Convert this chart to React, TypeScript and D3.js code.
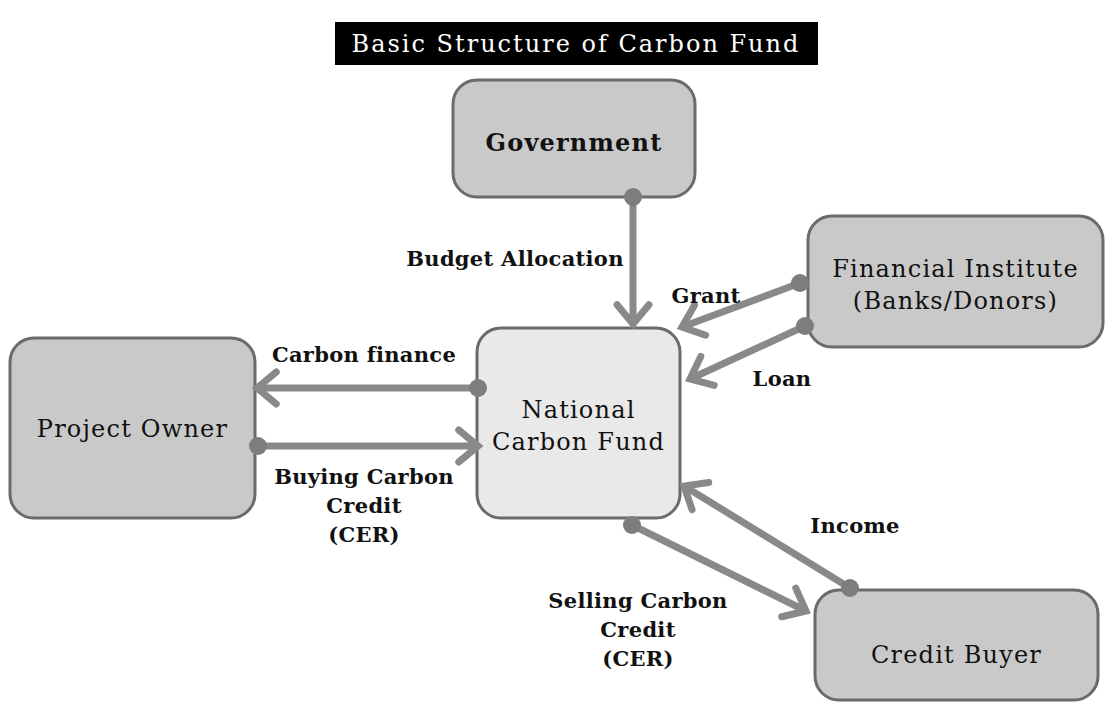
import * as d3 from 'd3';
import React from 'react';

const W = 1105;
const H = 703;

// boxes: name, rect, fill, text lines, bold
const boxNames = ['Government', 'Financial Institute', 'Project Owner', 'National Carbon Fund', 'Credit Buyer'];
const boxRects = [
  [453, 80, 695, 197],
  [808, 216, 1103, 347],
  [10, 338, 255, 518],
  [477, 328, 680, 518],
  [815, 590, 1098, 700],
];
const boxTextY = [142, 284, 428, 425, 654];
const boxFills = ['#c9c9c9', '#c9c9c9', '#c9c9c9', '#e9e9e9', '#c9c9c9'];
const boxLines = [
  ['Government'],
  ['Financial Institute', '(Banks/Donors)'],
  ['Project Owner'],
  ['National', 'Carbon Fund'],
  ['Credit Buyer'],
];
const boxBold = [true, false, false, false, false];

// flows: start (dot) -> end (arrow tip)
const flowNames = ['Budget Allocation', 'Grant', 'Loan', 'Carbon finance', 'Buying Carbon Credit', 'Income', 'Selling Carbon Credit'];
const flowFrom = [[633, 197], [800, 283], [805, 326], [478, 388], [258, 446], [850, 588], [632, 525]];
const flowTo = [[633, 324], [682, 327], [690, 379], [257, 388], [478, 446], [684, 486], [806, 611]];

// labels
const labelLines = [
  ['Budget Allocation'],
  ['Grant'],
  ['Loan'],
  ['Carbon finance'],
  ['Buying Carbon', 'Credit', '(CER)'],
  ['Income'],
  ['Selling Carbon', 'Credit', '(CER)'],
];
const labelPos = [[515, 266], [706, 303], [782, 386], [364, 362], [364, 484], [855, 533], [638, 608]];

const font = '"DejaVu Serif", serif';

export default function App() {
  const line = d3.line();
  const arrowColor = '#898989';

  return (
    <svg width={W} height={H} style={{ position: 'absolute', left: 0, top: 0, background: '#fff' }}>
      {/* title */}
      <rect x={335} y={22} width={483} height={43} fill="#000" />
      <text x={576} y={52} textAnchor="middle" fill="#fff" fontFamily={font} fontSize={24} letterSpacing={2}>
        Basic Structure of Carbon Fund
      </text>

      {boxNames.map((n, i) => {
        const [x0, y0, x1, y1] = boxRects[i];
        const cx = (x0 + x1) / 2;
        const lines = boxLines[i];
        const lh = 32;
        return (
          <g key={n}>
            <rect x={x0} y={y0} width={x1 - x0} height={y1 - y0} rx={24} ry={24}
              fill={boxFills[i]} stroke="#6b6b6b" strokeWidth={3} />
            {lines.map((t, j) => (
              <text key={t} x={cx} y={boxTextY[i] + (j - (lines.length - 1) / 2) * lh + 9}
                textAnchor="middle" fontFamily={font} fontSize={24} letterSpacing={1.2}
                fontWeight={boxBold[i] ? 'bold' : 'normal'} fill="#111">{t}</text>
            ))}
          </g>
        );
      })}

      {flowNames.map((n, i) => {
        const [x0, y0] = flowFrom[i];
        const [x1, y1] = flowTo[i];
        const a = Math.atan2(y1 - y0, x1 - x0);
        const len = 25;
        const spread = Math.PI * 0.22;
        const b1: [number, number] = [x1 - len * Math.cos(a - spread), y1 - len * Math.sin(a - spread)];
        const b2: [number, number] = [x1 - len * Math.cos(a + spread), y1 - len * Math.sin(a + spread)];
        return (
          <g key={n}>
            <path d={line([[x0, y0], [x1, y1]]) || ''} stroke={arrowColor} strokeWidth={7} fill="none" />
            <path d={line([b1, [x1, y1], b2]) || ''} stroke={arrowColor} strokeWidth={7} fill="none"
              strokeLinejoin="miter" strokeLinecap="round" />
            <circle cx={x0} cy={y0} r={9} fill="#7d7d7d" />
          </g>
        );
      })}

      {labelLines.map((lines, i) => (
        <g key={flowNames[i]}>
          {lines.map((t, j) => (
            <text key={t} x={labelPos[i][0]} y={labelPos[i][1] + j * 29} textAnchor="middle"
              fontFamily={font} fontSize={21} fontWeight="bold" letterSpacing={0.3} fill="#111">{t}</text>
          ))}
        </g>
      ))}
    </svg>
  );
}
